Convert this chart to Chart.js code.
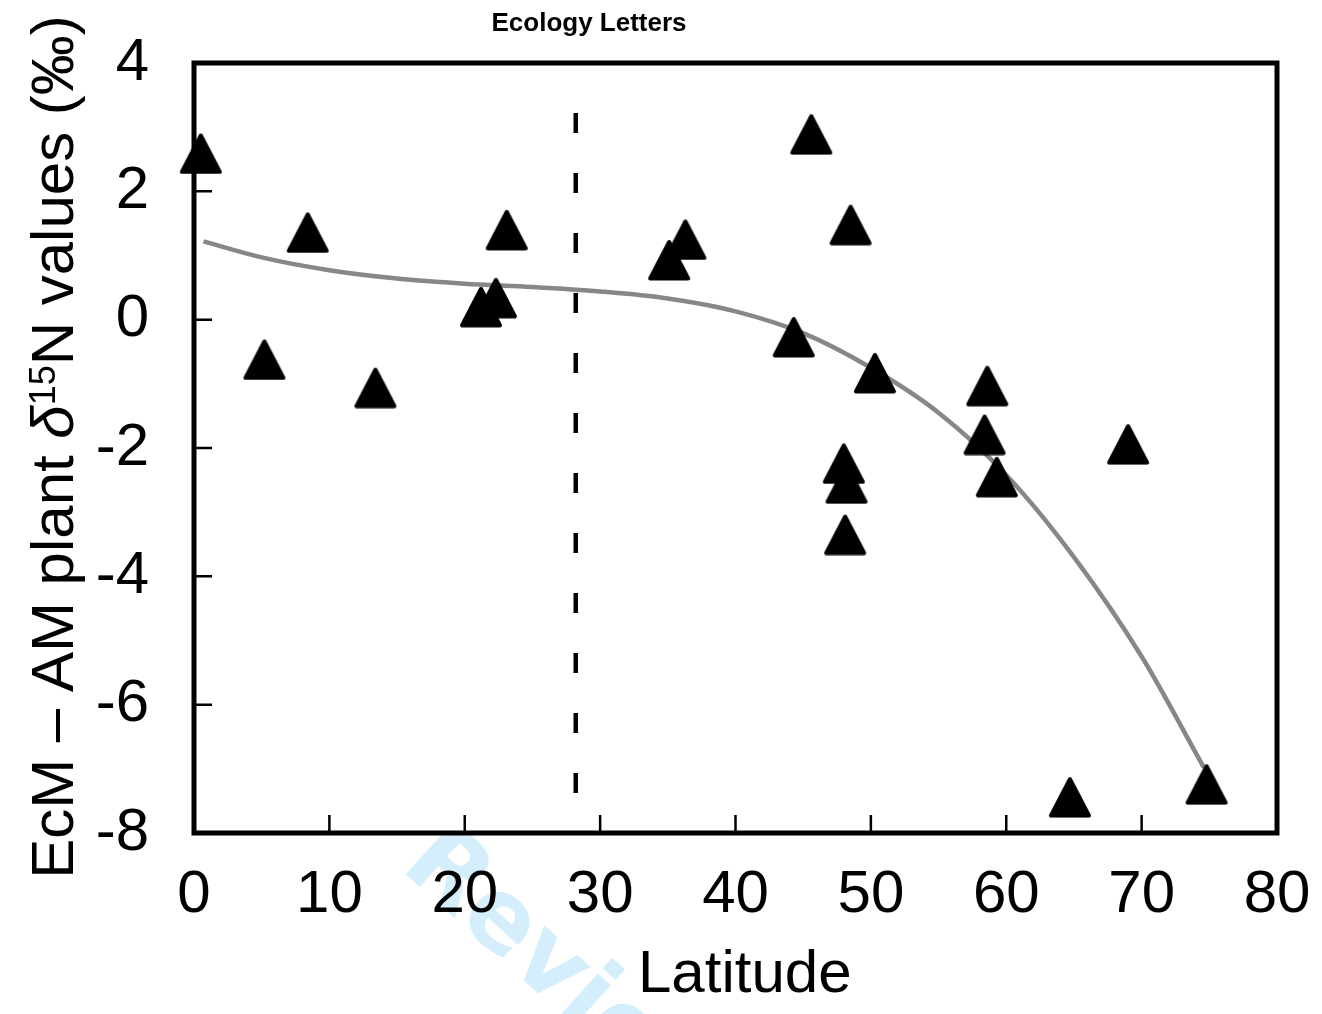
<!DOCTYPE html>
<html>
<head>
<meta charset="utf-8">
<title>EcM - AM plant d15N by latitude</title>
<script src="https://cdn.jsdelivr.net/npm/chart.js@4.4.1/dist/chart.umd.min.js"></script>
<style>
  html, body { margin: 0; padding: 0; background: #fff; }
  canvas { display: block; }
</style>
</head>
<body>
<canvas id="latitude_chart" width="1322" height="1014"></canvas>
<script>
// site latitude and EcM - AM plant delta15N difference (per mil)
const siteLatitude = [0.5, 5.2, 8.4, 13.4, 21.2, 22.3, 23.1, 35.1, 36.3, 45.6, 44.3, 48.5, 50.3, 48.0, 48.2, 48.1, 58.6, 58.4, 59.3, 69.0, 64.7, 74.8];
const siteDelta = [2.59, -0.62, 1.36, -1.06, 0.20, 0.34, 1.40, 0.93, 1.25, 2.89, -0.27, 1.48, -0.83, -2.24, -2.55, -3.35, -1.03, -1.79, -2.45, -1.94, -7.44, -7.24];

// fitted trend across latitude
const fitLatitude = [0.7, 5, 10, 15, 20, 25, 30, 35, 40, 45, 50, 55, 60, 65, 70, 74.6];
const fitDelta = [1.22, 0.97, 0.77, 0.64, 0.56, 0.51, 0.44, 0.33, 0.13, -0.21, -0.75, -1.45, -2.42, -3.70, -5.25, -6.98];

// dashed boundary line
const boundaryLatitude = 28.2;
const boundaryRange = [3.22, -7.43];

const xTicks = [0, 10, 20, 30, 40, 50, 60, 70, 80];
const yTicks = [-8, -6, -4, -2, 0, 2, 4];

const FONT = "'Liberation Sans', Arial, Helvetica, sans-serif";

// filled triangle marker with slightly rounded corners
function makeTriangle() {
  const c = document.createElement("canvas");
  c.width = 44;
  c.height = 42;
  const t = c.getContext("2d");
  t.beginPath();
  t.moveTo(22, 3);
  t.lineTo(3, 39.5);
  t.lineTo(41, 39.5);
  t.closePath();
  t.fillStyle = "#000";
  t.fill();
  t.lineJoin = "round";
  t.lineWidth = 4;
  t.strokeStyle = "#000";
  t.stroke();
  return c;
}

function drawYTitle(ctx, cx, cy) {
  const parts = [
    { text: "EcM – AM plant ", font: "60px " + FONT, dy: 0 },
    { text: "δ", font: "italic 60px " + FONT, dy: 0 },
    { text: "15", font: "36px " + FONT, dy: -18 },
    { text: "N values (‰)", font: "60px " + FONT, dy: 0 },
  ];
  let total = 0;
  parts.forEach((p) => {
    ctx.font = p.font;
    p.w = ctx.measureText(p.text).width;
    total += p.w;
  });
  ctx.save();
  ctx.translate(cx, cy);
  ctx.rotate(-Math.PI / 2);
  ctx.fillStyle = "#000";
  ctx.textBaseline = "alphabetic";
  ctx.textAlign = "left";
  let pos = -total / 2;
  parts.forEach((p) => {
    ctx.font = p.font;
    ctx.fillText(p.text, pos, p.dy);
    pos += p.w;
  });
  ctx.restore();
}

const decorations = {
  id: "decorations",
  beforeDraw(chart) {
    const ctx = chart.ctx;
    const area = chart.chartArea;
    ctx.save();
    ctx.fillStyle = "#fff";
    ctx.fillRect(0, 0, chart.width, chart.height);

    // review watermark, mostly hidden behind the plot box
    ctx.translate(399, 868);
    ctx.rotate(42 * Math.PI / 180);
    ctx.font = "bold 100px 'DejaVu Sans', " + FONT;
    ctx.fillStyle = "#d5eefb";
    ctx.textBaseline = "alphabetic";
    const lead = ctx.measureText("For ").width;
    ctx.fillText("For Review Only", -lead, 0);
    ctx.restore();

    ctx.save();
    ctx.fillStyle = "#fff";
    ctx.fillRect(area.left, area.top, area.right - area.left, area.bottom - area.top);
    ctx.restore();
  },
  beforeDatasetsDraw(chart) {
    const ctx = chart.ctx;
    const area = chart.chartArea;
    const x = chart.scales.x;
    const y = chart.scales.y;
    ctx.save();
    ctx.strokeStyle = "#000";

    // inward tick marks
    ctx.lineWidth = 2.5;
    ctx.beginPath();
    xTicks.forEach((v) => {
      const px = x.getPixelForValue(v);
      ctx.moveTo(px, area.bottom);
      ctx.lineTo(px, area.bottom - 18);
    });
    yTicks.forEach((v) => {
      const py = y.getPixelForValue(v);
      ctx.moveTo(area.left, py);
      ctx.lineTo(area.left + 18, py);
    });
    ctx.stroke();

    // plot frame
    ctx.lineWidth = 5;
    ctx.strokeRect(area.left, area.top, area.right - area.left, area.bottom - area.top);
    ctx.restore();
  },
  afterDraw(chart) {
    const ctx = chart.ctx;
    ctx.save();
    ctx.fillStyle = "#000";
    ctx.textBaseline = "alphabetic";

    ctx.font = "bold 26px " + FONT;
    ctx.textAlign = "center";
    ctx.fillText("Ecology Letters", 589, 31);

    ctx.font = "60px " + FONT;
    ctx.textAlign = "left";
    ctx.fillText("Latitude", 638, 992);
    ctx.restore();

    drawYTitle(ctx, 73, 447);
  },
};

const sitePoints = siteLatitude.map((lat, i) => ({ x: lat, y: siteDelta[i] }));
const fitPoints = fitLatitude.map((lat, i) => ({ x: lat, y: fitDelta[i] }));
const boundaryPoints = boundaryRange.map((v) => ({ x: boundaryLatitude, y: v }));

const ctx = document.getElementById("latitude_chart").getContext("2d");

new Chart(ctx, {
  type: "scatter",
  data: {
    datasets: [
      {
        label: "Sites",
        data: sitePoints,
        pointStyle: makeTriangle(),
        pointRadius: 20,
        pointHoverRadius: 20,
        showLine: false,
        clip: false,
      },
      {
        label: "Fit",
        data: fitPoints,
        showLine: true,
        borderColor: "#878787",
        borderWidth: 4.5,
        pointRadius: 0,
        cubicInterpolationMode: "monotone",
      },
      {
        label: "Boundary",
        data: boundaryPoints,
        showLine: true,
        borderColor: "#000",
        borderWidth: 4.5,
        borderDash: [20, 40],
        borderCapStyle: "butt",
        pointRadius: 0,
      },
    ],
  },
  options: {
    responsive: false,
    animation: false,
    events: [],
    layout: {
      padding: { top: 63, right: 45, left: 0, bottom: 0 },
    },
    plugins: {
      legend: { display: false },
      tooltip: { enabled: false },
      title: { display: false },
    },
    scales: {
      x: {
        type: "linear",
        position: "bottom",
        min: 0,
        max: 80,
        afterBuildTicks: (scale) => {
          scale.ticks = xTicks.map((v) => ({ value: v }));
        },
        afterFit: (scale) => {
          scale.height = 181;
          scale.paddingLeft = 0;
          scale.paddingRight = 0;
        },
        grid: { display: false },
        border: { display: false },
        ticks: {
          color: "#000",
          padding: 18,
          maxRotation: 0,
          font: { family: FONT, size: 60 },
        },
      },
      y: {
        type: "linear",
        position: "left",
        min: -8,
        max: 4,
        afterBuildTicks: (scale) => {
          scale.ticks = yTicks.map((v) => ({ value: v }));
        },
        afterFit: (scale) => {
          scale.width = 194;
          scale.paddingTop = 0;
          scale.paddingBottom = 0;
        },
        grid: { display: false },
        border: { display: false },
        ticks: {
          color: "#000",
          padding: 37,
          font: { family: FONT, size: 60 },
        },
      },
    },
  },
  plugins: [decorations],
});
</script>
</body>
</html>
